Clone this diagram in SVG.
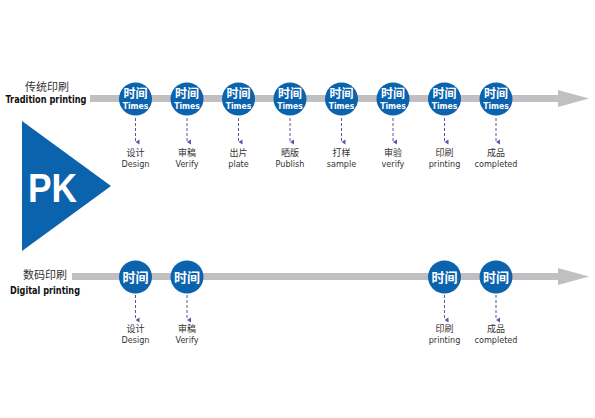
<svg xmlns="http://www.w3.org/2000/svg" width="595" height="418" viewBox="0 0 595 418">
<style>
.bar{fill:#c0c0c2}
.c{fill:#0b62ad}
.ct{fill:#fff;font-family:"Noto Sans CJK SC",sans-serif;font-weight:700;font-size:12px;text-anchor:middle}
.cb{fill:#fff;font-family:"Noto Sans CJK SC",sans-serif;font-weight:700;font-size:13px;text-anchor:middle}
.ce{fill:#fff;font-family:"DejaVu Sans Condensed","Liberation Sans",sans-serif;font-weight:700;font-size:8.5px;text-anchor:middle}
.d{stroke:#5b57a8;stroke-width:1;stroke-dasharray:3,2;fill:none}
.lz{fill:#333;font-family:"Noto Sans CJK SC",sans-serif;font-size:9px;text-anchor:middle}
.le{fill:#333;font-family:"DejaVu Sans Condensed","Liberation Sans",sans-serif;font-size:9px;text-anchor:middle}
.hz{fill:#333;font-family:"Noto Sans CJK SC",sans-serif;font-size:11px;text-anchor:middle}
.he{fill:#111;font-family:"DejaVu Sans Condensed","Liberation Sans",sans-serif;font-weight:700;font-size:10px;text-anchor:middle}
</style>
<defs>
<marker id="ah" markerWidth="6" markerHeight="6" refX="3" refY="5" orient="auto" markerUnits="userSpaceOnUse">
<path d="M0.5,1 L3,5 L5.5,1 Z" fill="#5b57a8"/>
</marker>
</defs>
<g id="timelines">
<path class="bar" d="M90,95 H558 V90 L589,98.5 L558,107 V102 H90 Z"/>
<path class="bar" d="M72,273 H558 V268 L589,276.5 L558,285 V280 H72 Z"/>
</g>
<g id="pk">
<polygon points="22,121 22,251 111,186" fill="#0b62ad"/>
<text x="52.5" y="202" fill="#fff" font-family="Liberation Sans,Arial,sans-serif" font-weight="700" font-size="40" text-anchor="middle" textLength="49" lengthAdjust="spacingAndGlyphs">PK</text>
</g>
<g id="label-tradition">
<text class="hz" x="47" y="91">传统印刷</text>
<text class="he" x="46" y="103" textLength="81" lengthAdjust="spacingAndGlyphs">Tradition printing</text>
</g>
<g id="label-digital">
<text class="hz" x="45" y="279">数码印刷</text>
<text class="he" x="45" y="294" textLength="70" lengthAdjust="spacingAndGlyphs">Digital printing</text>
</g>
<g id="connectors">
<line class="d" x1="135.5" y1="118" x2="135.5" y2="142" marker-end="url(#ah)"/>
<line class="d" x1="187" y1="118" x2="187" y2="142" marker-end="url(#ah)"/>
<line class="d" x1="238.5" y1="118" x2="238.5" y2="142" marker-end="url(#ah)"/>
<line class="d" x1="290" y1="118" x2="290" y2="142" marker-end="url(#ah)"/>
<line class="d" x1="341.5" y1="118" x2="341.5" y2="142" marker-end="url(#ah)"/>
<line class="d" x1="393" y1="118" x2="393" y2="142" marker-end="url(#ah)"/>
<line class="d" x1="444.5" y1="118" x2="444.5" y2="142" marker-end="url(#ah)"/>
<line class="d" x1="496" y1="118" x2="496" y2="142" marker-end="url(#ah)"/>
<line class="d" x1="135.5" y1="295" x2="135.5" y2="320" marker-end="url(#ah)"/>
<line class="d" x1="187" y1="295" x2="187" y2="320" marker-end="url(#ah)"/>
<line class="d" x1="444.5" y1="295" x2="444.5" y2="320" marker-end="url(#ah)"/>
<line class="d" x1="496" y1="295" x2="496" y2="320" marker-end="url(#ah)"/>
</g>
<g id="t1"><circle class="c" cx="135.5" cy="99" r="16.5"/><text class="ct" x="135.5" y="97.5">时间</text><text class="ce" x="135.5" y="108.5">Times</text><text class="lz" x="135.5" y="156">设计</text><text class="le" x="135.5" y="167">Design</text></g>
<g id="t2"><circle class="c" cx="187" cy="99" r="16.5"/><text class="ct" x="187" y="97.5">时间</text><text class="ce" x="187" y="108.5">Times</text><text class="lz" x="187" y="156">审稿</text><text class="le" x="187" y="167">Verify</text></g>
<g id="t3"><circle class="c" cx="238.5" cy="99" r="16.5"/><text class="ct" x="238.5" y="97.5">时间</text><text class="ce" x="238.5" y="108.5">Times</text><text class="lz" x="238.5" y="156">出片</text><text class="le" x="238.5" y="167">plate</text></g>
<g id="t4"><circle class="c" cx="290" cy="99" r="16.5"/><text class="ct" x="290" y="97.5">时间</text><text class="ce" x="290" y="108.5">Times</text><text class="lz" x="290" y="156">晒版</text><text class="le" x="290" y="167">Publish</text></g>
<g id="t5"><circle class="c" cx="341.5" cy="99" r="16.5"/><text class="ct" x="341.5" y="97.5">时间</text><text class="ce" x="341.5" y="108.5">Times</text><text class="lz" x="341.5" y="156">打样</text><text class="le" x="341.5" y="167">sample</text></g>
<g id="t6"><circle class="c" cx="393" cy="99" r="16.5"/><text class="ct" x="393" y="97.5">时间</text><text class="ce" x="393" y="108.5">Times</text><text class="lz" x="393" y="156">审验</text><text class="le" x="393" y="167">verify</text></g>
<g id="t7"><circle class="c" cx="444.5" cy="99" r="16.5"/><text class="ct" x="444.5" y="97.5">时间</text><text class="ce" x="444.5" y="108.5">Times</text><text class="lz" x="444.5" y="156">印刷</text><text class="le" x="444.5" y="167">printing</text></g>
<g id="t8"><circle class="c" cx="496" cy="99" r="16.5"/><text class="ct" x="496" y="97.5">时间</text><text class="ce" x="496" y="108.5">Times</text><text class="lz" x="496" y="156">成品</text><text class="le" x="496" y="167">completed</text></g>
<g id="d1"><circle class="c" cx="135.5" cy="277" r="16.5"/><text class="cb" x="135.5" y="282">时间</text><text class="lz" x="135.5" y="332">设计</text><text class="le" x="135.5" y="343">Design</text></g>
<g id="d2"><circle class="c" cx="187" cy="277" r="16.5"/><text class="cb" x="187" y="282">时间</text><text class="lz" x="187" y="332">审稿</text><text class="le" x="187" y="343">Verify</text></g>
<g id="d3"><circle class="c" cx="444.5" cy="277" r="16.5"/><text class="cb" x="444.5" y="282">时间</text><text class="lz" x="444.5" y="332">印刷</text><text class="le" x="444.5" y="343">printing</text></g>
<g id="d4"><circle class="c" cx="496" cy="277" r="16.5"/><text class="cb" x="496" y="282">时间</text><text class="lz" x="496" y="332">成品</text><text class="le" x="496" y="343">completed</text></g>
</svg>
